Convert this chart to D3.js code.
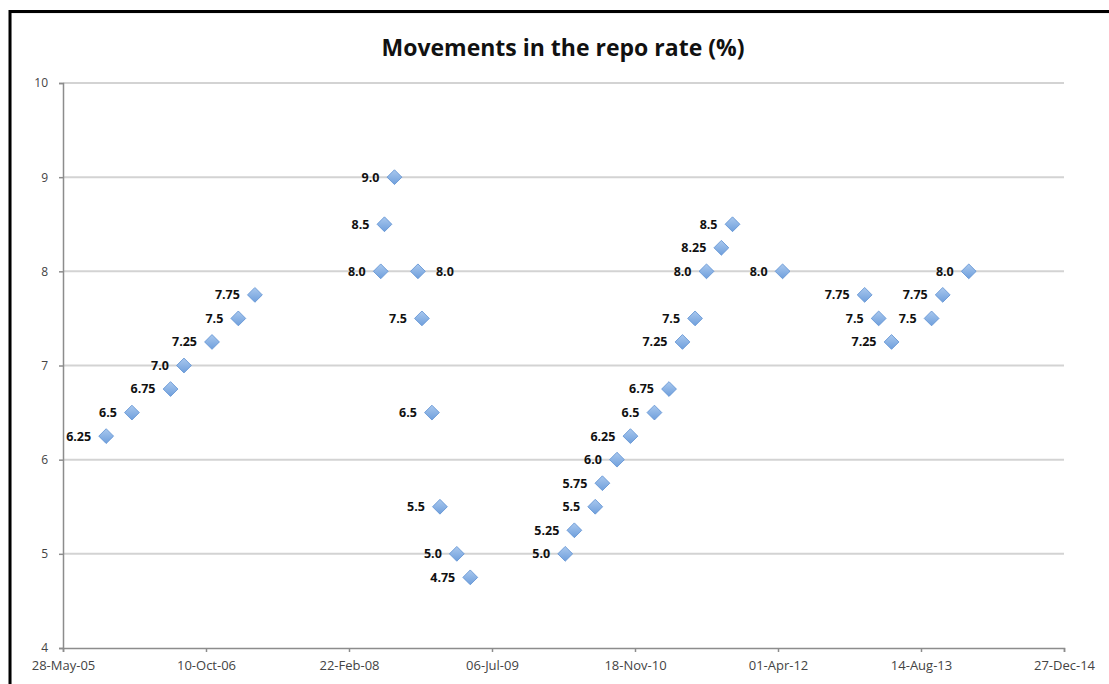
<!DOCTYPE html>
<html>
<head>
<meta charset="utf-8">
<script src="https://cdn.jsdelivr.net/npm/d3@7"></script>
<style>
  html, body { margin: 0; padding: 0; background: #fff; }
  svg { display: block; }
</style>
</head>
<body>
<div id="chart"></div>
<script>
// ---- data ----
const dates = [
  "2005-10-26","2006-01-24","2006-06-08","2006-07-25","2006-10-31","2007-01-31","2007-03-30",
  "2008-06-12","2008-06-25","2008-07-30","2008-10-20","2008-11-03","2008-12-08","2009-01-05","2009-03-05","2009-04-21",
  "2010-03-19","2010-04-20","2010-07-02","2010-07-27","2010-09-16","2010-11-02","2011-01-25","2011-03-17","2011-05-03","2011-06-16","2011-07-26","2011-09-16","2011-10-25",
  "2012-04-17","2013-01-29","2013-03-19","2013-05-03","2013-09-20","2013-10-29","2014-01-28"
];
const rates = [
  6.25,6.5,6.75,7.0,7.25,7.5,7.75,
  8.0,8.5,9.0,8.0,7.5,6.5,5.5,5.0,4.75,
  5.0,5.25,5.5,5.75,6.0,6.25,6.5,6.75,7.25,7.5,8.0,8.25,8.5,
  8.0,7.75,7.5,7.25,7.5,7.75,8.0
];
const labels = [
  "6.25","6.5","6.75","7.0","7.25","7.5","7.75",
  "8.0","8.5","9.0","8.0","7.5","6.5","5.5","5.0","4.75",
  "5.0","5.25","5.5","5.75","6.0","6.25","6.5","6.75","7.25","7.5","8.0","8.25","8.5",
  "8.0","7.75","7.5","7.25","7.5","7.75","8.0"
];
const labelSide = dates.map((d, i) => i === 10 ? "right" : "left");
const xTickDates = ["2005-05-28","2006-10-10","2008-02-22","2009-07-06","2010-11-18","2012-04-01","2013-08-14","2014-12-27"];
const yTicks = [4,5,6,7,8,9,10];
const title = "Movements in the repo rate (%)";

// ---- chart ----
const W = 1109, H = 684;
const parse = d3.utcParse("%Y-%m-%d");
const fmt = d3.utcFormat("%d-%b-%y");
const svg = d3.select("#chart").append("svg").attr("width", W).attr("height", H);

const defs = svg.append("defs");
const grad = defs.append("linearGradient").attr("id","mk").attr("x1","0").attr("y1","0").attr("x2","0").attr("y2","1");
grad.append("stop").attr("offset","0%").attr("stop-color","#a9c8ee");
grad.append("stop").attr("offset","100%").attr("stop-color","#6f9fdc");

// frame
svg.append("rect").attr("x",11).attr("y",13).attr("width",W).attr("height",H).attr("fill","none").attr("stroke","#ececec").attr("stroke-width",1.5);
svg.append("line").attr("x1",9).attr("x2",W).attr("y1",11.5).attr("y2",11.5).attr("stroke","#000").attr("stroke-width",3);
svg.append("line").attr("x1",10).attr("x2",10).attr("y1",10).attr("y2",H).attr("stroke","#000").attr("stroke-width",3);

const x = d3.scaleUtc().domain([parse(xTickDates[0]), parse(xTickDates[xTickDates.length-1])]).range([63, 1064]);
const y = d3.scaleLinear().domain([4, 10]).range([648, 83]);

// gridlines
svg.append("g").selectAll("line").data(yTicks.slice(1)).join("line")
  .attr("x1", 63).attr("x2", 1064)
  .attr("y1", d => y(d)).attr("y2", d => y(d))
  .attr("stroke", "#d3d3d3").attr("stroke-width", 2);

// x axis
const xAxis = svg.append("g").attr("transform", `translate(0,${y(4)})`)
  .call(d3.axisBottom(x).tickValues(xTickDates.map(parse)).tickFormat(fmt).tickSize(4).tickPadding(9));
xAxis.select(".domain").attr("stroke", "#8c8c8c").attr("stroke-width", 1.5);
xAxis.selectAll(".tick line").attr("stroke", "#8c8c8c").attr("stroke-width", 1.5);
xAxis.selectAll("text").attr("font-family", "'Open Sans', sans-serif").attr("font-size", 13).attr("fill", "#444");

// y axis
const yAxis = svg.append("g").attr("transform", `translate(63,0)`)
  .call(d3.axisLeft(y).tickValues(yTicks).tickFormat(d3.format("d")).tickSize(4).tickPadding(11));
yAxis.select(".domain").attr("stroke", "#8c8c8c").attr("stroke-width", 1.5);
yAxis.selectAll(".tick line").attr("stroke", "#8c8c8c").attr("stroke-width", 1.5);
yAxis.selectAll("text").attr("font-family", "'Open Sans', sans-serif").attr("font-size", 12).attr("fill", "#444");

// title
svg.append("text").attr("x", 563).attr("y", 56).attr("text-anchor", "middle")
  .attr("font-family", "'Open Sans', sans-serif").attr("font-weight", "bold").attr("font-size", 23)
  .attr("fill", "#111").text(title);

// points
const pts = dates.map((d, i) => ({ date: parse(d), v: rates[i], lab: labels[i], side: labelSide[i] }));
const sym = d3.symbol().type(d3.symbolDiamond2).size(140);
svg.append("g").selectAll("path").data(pts).join("path")
  .attr("transform", d => `translate(${x(d.date)},${y(d.v)})`)
  .attr("d", sym)
  .attr("fill", "url(#mk)").attr("stroke", "#5c8fd2").attr("stroke-width", 0.8);

svg.append("g").selectAll("text").data(pts).join("text")
  .attr("x", d => d.side === "right" ? x(d.date) + 18 : x(d.date) - 15)
  .attr("y", d => y(d.v))
  .attr("dy", "0.35em")
  .attr("text-anchor", d => d.side === "right" ? "start" : "end")
  .attr("font-family", "'Open Sans', sans-serif").attr("font-weight", "bold").attr("font-size", 12.5)
  .attr("fill", "#111").text(d => d.lab);
</script>
</body>
</html>
